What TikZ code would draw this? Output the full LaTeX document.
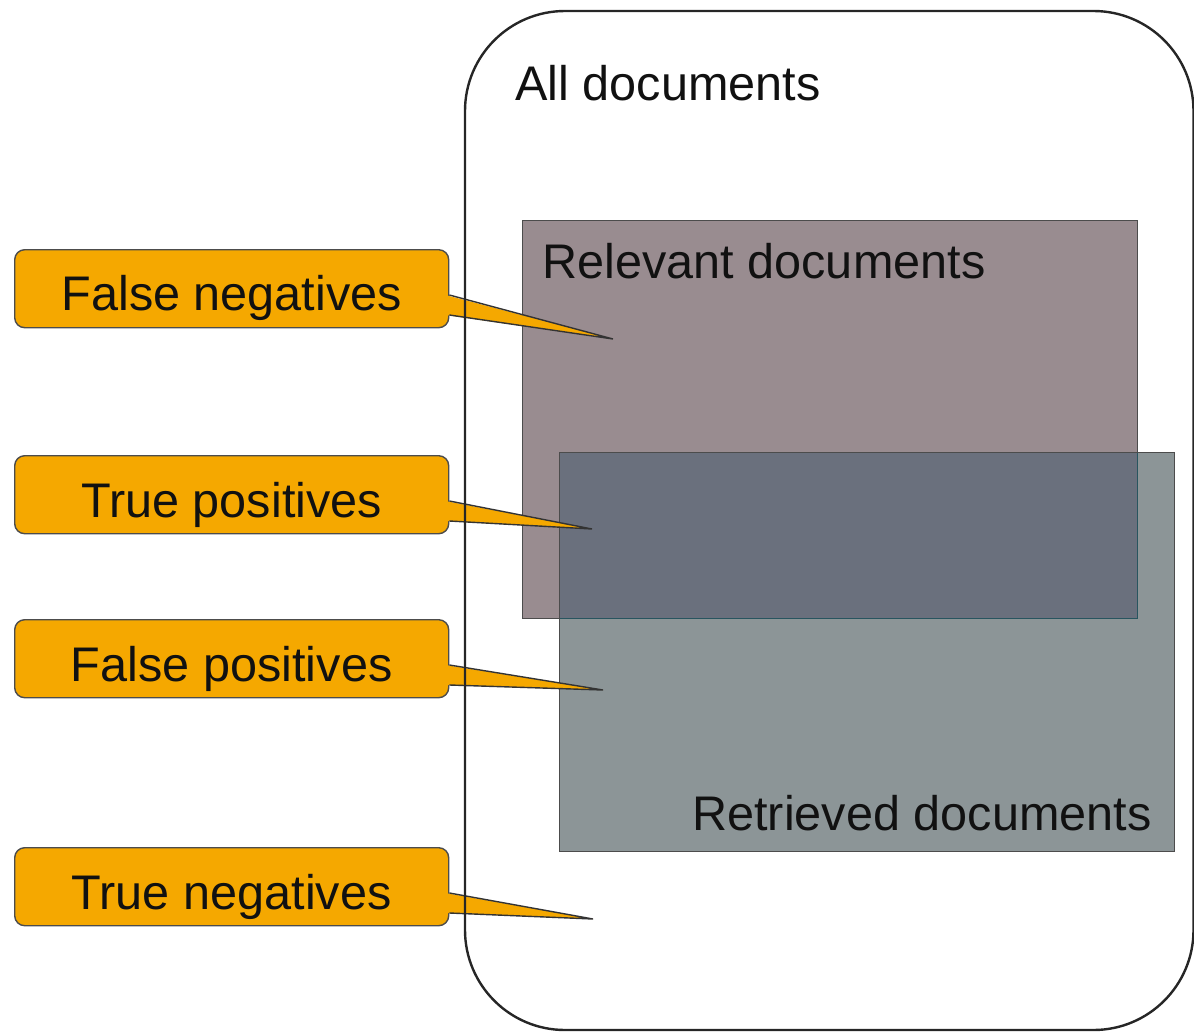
\documentclass[tikz,border=0pt]{standalone}
\usepackage{fontspec}
\setmainfont{Liberation Sans}
\usetikzlibrary{calc}
\definecolor{callout}{RGB}{245,168,0}
\definecolor{relfill}{RGB}{153,140,144}
\definecolor{retfill}{RGB}{140,149,151}
\definecolor{ovfill}{RGB}{106,112,125}
\definecolor{edgeteal}{RGB}{40,85,95}
\definecolor{inktext}{RGB}{17,17,17}
\begin{document}
\begin{tikzpicture}[x=0.5pt,y=-0.5pt,
  lbl/.style={font=\fontsize{24.3}{29}\selectfont, text=inktext, inner sep=0pt},
  callbox/.style={draw=black!70, line width=0.7pt, fill=callout, rounded corners=5pt,
    minimum width=217pt, minimum height=39pt, inner sep=0pt, anchor=north west},
  wedgeedge/.style={draw=black!80, line width=0.7pt, line join=miter},
  setbox/.style={draw=black!70, line width=0.5pt},
  outline/.style={draw=black!85, line width=1.2pt, rounded corners=50pt}]
\useasboundingbox (0,0) rectangle (1194,1033);

% document sets
\fill[relfill] (522,220) rectangle (1137,618);
\fill[retfill] (559,452) rectangle (1174,851);
\fill[ovfill] (559,452) rectangle (1137,618);
\draw[setbox] (1137,452) |- (522,220) |- (559,618);
\draw[edgeteal, line width=0.5pt] (559,618) -| (1137,452);
\draw[setbox] (559,452) rectangle (1174,851);
\node[lbl, anchor=base west] (rel) at (542,278) {Relevant documents};
\node[lbl, anchor=base east] (ret) at (1152,830) {Retrieved documents};

% callout boxes
\node[callbox] (fn) at (14,249) {};
\node[callbox] (tp) at (14,455) {};
\node[callbox] (fp) at (14,619) {};
\node[callbox] (tn) at (14,847) {};
\node[lbl, anchor=base] (fnt) at ($(fn.north)+(0,61)$) {False negatives};
\node[lbl, anchor=base] (tpt) at ($(tp.north)+(0,62)$) {True positives};
\node[lbl, anchor=base] (fpt) at ($(fp.north)+(0,62)$) {False positives};
\node[lbl, anchor=base] (tnt) at ($(tn.north)+(0,62)$) {True negatives};

% pointer tips
\coordinate (fntip) at (613,339);
\coordinate (tptip) at (592,529);
\coordinate (fptip) at (603,690);
\coordinate (tntip) at (593,919);

\foreach \b in {fn,tp,fp,tn}{
  \fill[callout] ($(\b.north east)+(-4,46)$) -- (\b tip) -- ($(\b.north east)+(-4,66)$) -- cycle;
  \draw[wedgeedge] ($(\b.north east)+(0,46)$) -- (\b tip) -- ($(\b.north east)+(0,66)$);
}

% all documents outline
\draw[outline] (465,11) rectangle (1193.5,1030);
\node[lbl, anchor=base west] (all) at (515,100) {All documents};
\end{tikzpicture}
\end{document}
